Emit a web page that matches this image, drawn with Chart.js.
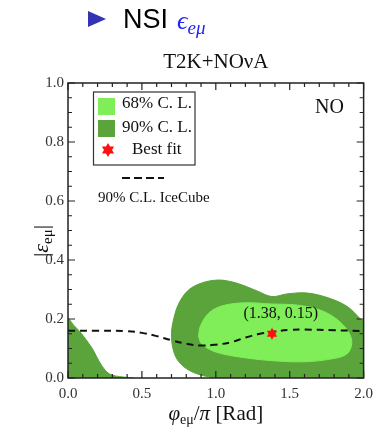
<!DOCTYPE html>
<html>
<head>
<meta charset="utf-8">
<script src="https://cdn.jsdelivr.net/npm/chart.js@4.4.1/dist/chart.umd.min.js"></script>
<style>
  html, body { margin: 0; padding: 0; background: #fff; }
  #wrap { width: 380px; height: 436px; }
</style>
</head>
<body>
<div id="wrap"><canvas id="nsiChart" width="380" height="436"></canvas></div>
<script>
// axis ticks
const phiTicks = [0, 0.5, 1.0, 1.5, 2.0];
const epsTicks = [0, 0.2, 0.4, 0.6, 0.8, 1.0];

// 90% C.L. island at small phase
const cl90LowPhi = [0, 0, 0.04, 0.08, 0.13, 0.17, 0.21, 0.25, 0.28, 0.32, 0.38, 0.44, 0];
const cl90LowEps = [0, 0.20, 0.178, 0.157, 0.125, 0.095, 0.057, 0.027, 0.014, 0.007, 0.003, 0, 0];

// 90% C.L. main region
const cl90MainPhi = [1.0, 0.95, 0.88, 0.80, 0.74, 0.71, 0.70, 0.715, 0.75, 0.815, 0.905, 1.01, 1.10, 1.18, 1.28, 1.38, 1.48, 1.62, 1.77, 1.89, 1.975, 2.0, 2.0, 1.0];
const cl90MainEps = [0, 0.004, 0.013, 0.032, 0.062, 0.10, 0.15, 0.20, 0.253, 0.298, 0.322, 0.332, 0.327, 0.315, 0.295, 0.276, 0.285, 0.288, 0.27, 0.242, 0.202, 0.19, 0, 0];

// 68% C.L. region
const cl68Phi = [0.883, 0.894, 0.95, 1.039, 1.195, 1.373, 1.552, 1.708, 1.819, 1.897, 1.92, 1.886, 1.775, 1.597, 1.373, 1.15, 0.994, 0.905, 0.883];
const cl68Eps = [0.140, 0.174, 0.219, 0.244, 0.255, 0.251, 0.247, 0.230, 0.199, 0.157, 0.118, 0.081, 0.064, 0.055, 0.059, 0.072, 0.089, 0.115, 0.140];

// IceCube 90% C.L. bound
const iceCubePhi = [0, 0.2, 0.4, 0.5, 0.6, 0.7, 0.8, 0.9, 1.0, 1.1, 1.2, 1.3, 1.4, 1.5, 1.6, 1.8, 2.0];
const iceCubeEps = [0.16, 0.16, 0.159, 0.153, 0.142, 0.128, 0.116, 0.110, 0.113, 0.121, 0.137, 0.150, 0.158, 0.163, 0.164, 0.162, 0.159];

// best fit point
const bestFitPhi = [1.38];
const bestFitEps = [0.15];

const LIGHT = '#80ee58';
const DARK = '#5ba33b';
const SERIF = '"Liberation Serif", "DejaVu Serif", serif';

const toPoints = (xs, ys) => xs.map((v, i) => ({ x: v, y: ys[i] }));

function hexagram(ctx, cx, cy, r) {
  ctx.beginPath();
  for (const start of [-90, 90]) {
    for (let k = 0; k < 3; k++) {
      const a = (start + k * 120) * Math.PI / 180;
      const px = cx + r * Math.cos(a), py = cy + r * Math.sin(a);
      if (k === 0) ctx.moveTo(px, py); else ctx.lineTo(px, py);
    }
    ctx.closePath();
  }
  ctx.fill('nonzero');
}

function starImage(r) {
  const c = document.createElement('canvas');
  c.width = c.height = Math.ceil(2 * r + 2);
  const g = c.getContext('2d');
  g.fillStyle = '#ff1010';
  hexagram(g, c.width / 2, c.height / 2, r);
  return c;
}

// draw a row of text pieces with their own fonts and vertical shifts
function drawRuns(ctx, runs, x, y, align) {
  let w = 0;
  for (const r of runs) { ctx.font = r.font; w += ctx.measureText(r.text).width; }
  let cx = align === 'center' ? x - w / 2 : x;
  for (const r of runs) {
    ctx.font = r.font;
    ctx.fillText(r.text, cx, y + (r.dy || 0));
    cx += ctx.measureText(r.text).width;
  }
}

const framePlugin = {
  id: 'frame',
  afterDatasetsDraw(chart) {
    const { ctx, chartArea: a, scales: { x, y } } = chart;
    ctx.save();
    ctx.strokeStyle = '#222';
    ctx.lineWidth = 1.2;
    ctx.beginPath();
    for (let i = 0; i <= 20; i++) {
      const px = x.getPixelForValue(i / 10);
      const len = i % 5 === 0 ? 7 : 4;
      ctx.moveTo(px, a.bottom); ctx.lineTo(px, a.bottom - len);
      ctx.moveTo(px, a.top); ctx.lineTo(px, a.top + len);
    }
    for (let i = 0; i <= 20; i++) {
      const py = y.getPixelForValue(i / 20);
      const len = i % 4 === 0 ? 7 : 4;
      ctx.moveTo(a.left, py); ctx.lineTo(a.left + len, py);
      ctx.moveTo(a.right, py); ctx.lineTo(a.right - len, py);
    }
    ctx.stroke();
    ctx.lineWidth = 1.5;
    ctx.strokeRect(a.left, a.top, a.right - a.left, a.bottom - a.top);
    ctx.restore();
  }
};

const textPlugin = {
  id: 'texts',
  afterDraw(chart) {
    const { ctx, chartArea: a, scales: { x, y } } = chart;
    ctx.save();
    ctx.textBaseline = 'alphabetic';

    // slide header
    ctx.fillStyle = '#3333b3';
    ctx.beginPath();
    ctx.moveTo(88, 11); ctx.lineTo(106, 19); ctx.lineTo(88, 27); ctx.closePath();
    ctx.fill();
    ctx.fillStyle = '#000';
    ctx.font = '27px "Liberation Sans", Arial, sans-serif';
    ctx.fillText('NSI', 123, 28);
    ctx.fillStyle = '#2424f2';
    drawRuns(ctx, [
      { text: 'ϵ', font: 'italic 26px ' + SERIF },
      { text: 'eμ', font: 'italic 19px ' + SERIF, dy: 5 }
    ], 177, 29, 'left');

    // plot title
    ctx.fillStyle = '#111';
    ctx.textAlign = 'left';
    drawRuns(ctx, [{ text: 'T2K+NOνA', font: '21px ' + SERIF }], (a.left + a.right) / 2, 68, 'center');

    // x axis title
    drawRuns(ctx, [
      { text: 'φ', font: 'italic 21px ' + SERIF },
      { text: 'eμ', font: '14px ' + SERIF, dy: 4 },
      { text: '/', font: '21px ' + SERIF },
      { text: 'π', font: 'italic 21px ' + SERIF },
      { text: ' [Rad]', font: '21px ' + SERIF }
    ], (a.left + a.right) / 2, 420, 'center');

    // y axis title
    ctx.save();
    ctx.translate(41, 241);
    ctx.rotate(-Math.PI / 2);
    drawRuns(ctx, [
      { text: '|', font: '22px ' + SERIF },
      { text: 'ε', font: 'italic 22px ' + SERIF },
      { text: 'eμ', font: '15px ' + SERIF, dy: 4 },
      { text: '|', font: '22px ' + SERIF }
    ], 0, 7, 'center');
    ctx.restore();

    // legend box
    ctx.strokeStyle = '#333';
    ctx.lineWidth = 1.2;
    ctx.strokeRect(93.5, 92, 101.5, 73);
    ctx.fillStyle = LIGHT;
    ctx.fillRect(98, 98, 17, 17);
    ctx.fillStyle = DARK;
    ctx.fillRect(98, 120, 17, 17);
    ctx.fillStyle = '#ff1010';
    hexagram(ctx, 108, 150, 7);
    ctx.fillStyle = '#111';
    ctx.font = '17px ' + SERIF;
    ctx.fillText('68% C. L.', 122, 108);
    ctx.fillText('90% C. L.', 122, 132);
    ctx.fillText('Best fit', 132, 154);

    ctx.strokeStyle = '#111';
    ctx.lineWidth = 2;
    ctx.setLineDash([8, 4]);
    ctx.beginPath();
    ctx.moveTo(122, 178); ctx.lineTo(164, 178);
    ctx.stroke();
    ctx.setLineDash([]);
    ctx.font = '15px ' + SERIF;
    ctx.fillText('90% C.L. IceCube', 98, 202);

    // ordering label
    ctx.font = '20px ' + SERIF;
    ctx.fillText('NO', 315, 113);

    // best fit annotation
    ctx.font = '16px ' + SERIF;
    ctx.textAlign = 'center';
    ctx.fillText('(' + bestFitPhi[0].toFixed(2) + ', ' + bestFitEps[0].toFixed(2) + ')',
      x.getPixelForValue(1.44), y.getPixelForValue(0.205));
    ctx.restore();
  }
};

const region = (xs, ys, color, order) => ({
  data: toPoints(xs, ys),
  backgroundColor: color,
  borderColor: color,
  borderWidth: 1,
  fill: 'shape',
  tension: 0.35,
  pointRadius: 0,
  order: order
});

new Chart(document.getElementById('nsiChart'), {
  type: 'line',
  data: {
    datasets: [
      region(cl90LowPhi, cl90LowEps, DARK, 4),
      region(cl90MainPhi, cl90MainEps, DARK, 4),
      region(cl68Phi, cl68Eps, LIGHT, 3),
      {
        data: toPoints(iceCubePhi, iceCubeEps),
        borderColor: '#111',
        borderWidth: 2,
        borderDash: [7, 5],
        fill: false,
        tension: 0.4,
        pointRadius: 0,
        order: 2
      },
      {
        data: toPoints(bestFitPhi, bestFitEps),
        showLine: false,
        pointStyle: starImage(6),
        pointRadius: 6,
        order: 1
      }
    ]
  },
  options: {
    responsive: false,
    animation: false,
    layout: { padding: { top: 83, right: 13, left: 0, bottom: 0 } },
    plugins: {
      legend: { display: false },
      tooltip: { enabled: false }
    },
    scales: {
      x: {
        type: 'linear',
        min: 0,
        max: 2,
        afterBuildTicks: s => { s.ticks = phiTicks.map(v => ({ value: v })); },
        afterFit: s => { s.height = 58; },
        grid: { display: false, drawTicks: false },
        border: { display: false },
        ticks: {
          padding: 7,
          color: '#333',
          font: { family: SERIF, size: 15 },
          maxRotation: 0,
          autoSkip: false,
          callback: v => v.toFixed(1)
        }
      },
      y: {
        type: 'linear',
        min: 0,
        max: 1,
        afterBuildTicks: s => { s.ticks = epsTicks.map(v => ({ value: v })); },
        afterFit: s => { s.width = 68; },
        grid: { display: false, drawTicks: false },
        border: { display: false },
        ticks: {
          padding: 4,
          color: '#333',
          font: { family: SERIF, size: 15 },
          autoSkip: false,
          callback: v => v.toFixed(1)
        }
      }
    }
  },
  plugins: [framePlugin, textPlugin]
});
</script>
</body>
</html>
